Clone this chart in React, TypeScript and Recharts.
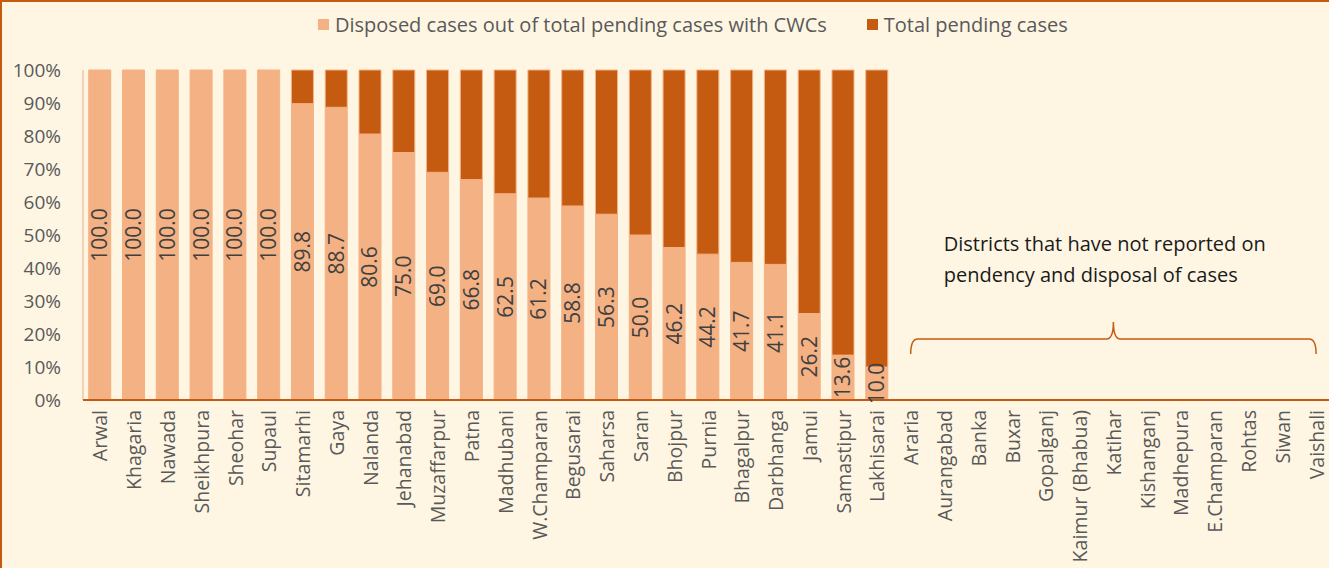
import React from "react";
import { BarChart, Bar, XAxis, YAxis, Legend, LabelList, ReferenceLine } from "recharts";

const categories = [
  "Arwal", "Khagaria", "Nawada", "Sheikhpura", "Sheohar", "Supaul", "Sitamarhi", "Gaya",
  "Nalanda", "Jehanabad", "Muzaffarpur", "Patna", "Madhubani", "W.Champaran", "Begusarai",
  "Saharsa", "Saran", "Bhojpur", "Purnia", "Bhagalpur", "Darbhanga", "Jamui", "Samastipur",
  "Lakhisarai", "Araria", "Aurangabad", "Banka", "Buxar", "Gopalganj", "Kaimur (Bhabua)",
  "Katihar", "Kishanganj", "Madhepura", "E.Champaran", "Rohtas", "Siwan", "Vaishali",
];

const disposedValues = [
  100.0, 100.0, 100.0, 100.0, 100.0, 100.0, 89.8, 88.7, 80.6, 75.0, 69.0, 66.8, 62.5, 61.2,
  58.8, 56.3, 50.0, 46.2, 44.2, 41.7, 41.1, 26.2, 13.6, 10.0,
];

const pendingValues = [
  0, 0, 0, 0, 0, 0, 10.2, 11.3, 19.4, 25.0, 31.0, 33.2, 37.5, 38.8,
  41.2, 43.7, 50.0, 53.8, 55.8, 58.3, 58.9, 73.8, 86.4, 90.0,
];

const yTicks = [0, 10, 20, 30, 40, 50, 60, 70, 80, 90, 100];

const seriesNames = {
  disposed: "Disposed cases out of total pending cases with CWCs",
  pending: "Total pending cases",
};

const annotationLines = [
  "Districts that have not reported on",
  "pendency and disposal of cases",
];
const braceFrom = "Araria";
const braceTo = "Vaishali";
const braceLevel = 18.5;

const LIGHT = "#F4B183";
const DARK = "#C55A11";
const BG = "#FEF6E3";
const TEXT = "#595959";
const FONT = "'Open Sans', 'Noto Sans', sans-serif";

const data = categories.map((name, i) => ({
  name,
  disposed: i < disposedValues.length ? disposedValues[i] : null,
  pending: i < pendingValues.length ? pendingValues[i] : null,
}));

const XTick = (props: any) => {
  const { x, y, payload } = props;
  return (
    <g transform={`translate(${x},${y})`}>
      <text
        transform="rotate(-90)"
        x={-2}
        y={0}
        textAnchor="end"
        dominantBaseline="central"
        fill={TEXT}
        fontSize={19.5}
        fontFamily={FONT}
      >
        {payload.value}
      </text>
    </g>
  );
};

const LegendContent = () => (
  <div style={{ display: "flex", alignItems: "center", fontFamily: FONT, fontSize: 20, color: TEXT, whiteSpace: "nowrap" }}>
    <span style={{ display: "inline-block", width: 11, height: 11, background: LIGHT, marginRight: 6 }} />
    <span style={{ marginRight: 40 }}>{seriesNames.disposed}</span>
    <span style={{ display: "inline-block", width: 11, height: 11, background: DARK, marginRight: 6 }} />
    <span>{seriesNames.pending}</span>
  </div>
);

const BraceShape = (props: any) => {
  const { x1, y1, x2 } = props;
  if (x1 == null || x2 == null) return null;
  const y = y1;
  const mid = (x1 + x2) / 2;
  const d = [
    `M ${x1} ${y + 15}`,
    `Q ${x1} ${y} ${x1 + 7} ${y}`,
    `L ${mid - 7} ${y}`,
    `Q ${mid} ${y} ${mid} ${y - 17}`,
    `Q ${mid} ${y} ${mid + 7} ${y}`,
    `L ${x2 - 7} ${y}`,
    `Q ${x2} ${y} ${x2} ${y + 15}`,
  ].join(" ");
  return (
    <g>
      <path d={d} fill="none" stroke={DARK} strokeWidth={1.5} />
      {annotationLines.map((line, i) => (
        <text key={i} x={x1 + 33} y={y - 88 + i * 31} fill="#1A1A1A" fontSize={20} fontFamily={FONT}>
          {line}
        </text>
      ))}
    </g>
  );
};

export default function App() {
  return (
    <div style={{ position: "fixed", left: 0, top: 0, width: 1329, height: 568, overflow: "hidden", background: BG }}>
      <div
        style={{
          position: "absolute", left: 0, top: 0, width: 1500, height: 800,
          boxSizing: "border-box", border: `2px solid ${DARK}`,
        }}
      />
      <div style={{ position: "absolute", left: 0, top: 0 }}>
        <BarChart
          width={1345}
          height={600}
          data={data}
          margin={{ top: 70, right: 12, left: 0, bottom: 0 }}
          barCategoryGap="17%"
        >
          <Legend
            layout="horizontal"
            verticalAlign="middle"
            align="center"
            content={<LegendContent />}
            wrapperStyle={{ top: 11, left: 318, width: "auto" }}
          />
          <YAxis
            width={83}
            domain={[0, 100]}
            ticks={yTicks}
            interval={0}
            tickFormatter={(v: number) => `${v}%`}
            axisLine={{ stroke: "#E2B08A", strokeWidth: 1 }}
            tickLine={false}
            tickSize={6}
            tickMargin={16}
            tick={{ fill: TEXT, fontSize: 19, fontFamily: FONT }}
          />
          <XAxis
            dataKey="name"
            interval={0}
            height={200}
            axisLine={{ stroke: DARK, strokeWidth: 2 }}
            tickLine={false}
            tick={<XTick />}
          />
          <Bar dataKey="disposed" name={seriesNames.disposed} stackId="a" fill={LIGHT} stroke={LIGHT} strokeWidth={1} isAnimationActive={false}>
            <LabelList
              dataKey="disposed"
              position="center"
              angle={-90}
              formatter={(v: any) => (v == null ? "" : Number(v).toFixed(1))}
              fill="#404040"
              fontSize={21}
              fontFamily={FONT}
            />
          </Bar>
          <Bar dataKey="pending" name={seriesNames.pending} stackId="a" fill={DARK} stroke={LIGHT} strokeWidth={1} isAnimationActive={false} />
          <ReferenceLine
            segment={[{ x: braceFrom, y: braceLevel }, { x: braceTo, y: braceLevel }]}
            ifOverflow="visible"
            shape={<BraceShape />}
          />
        </BarChart>
      </div>
    </div>
  );
}
